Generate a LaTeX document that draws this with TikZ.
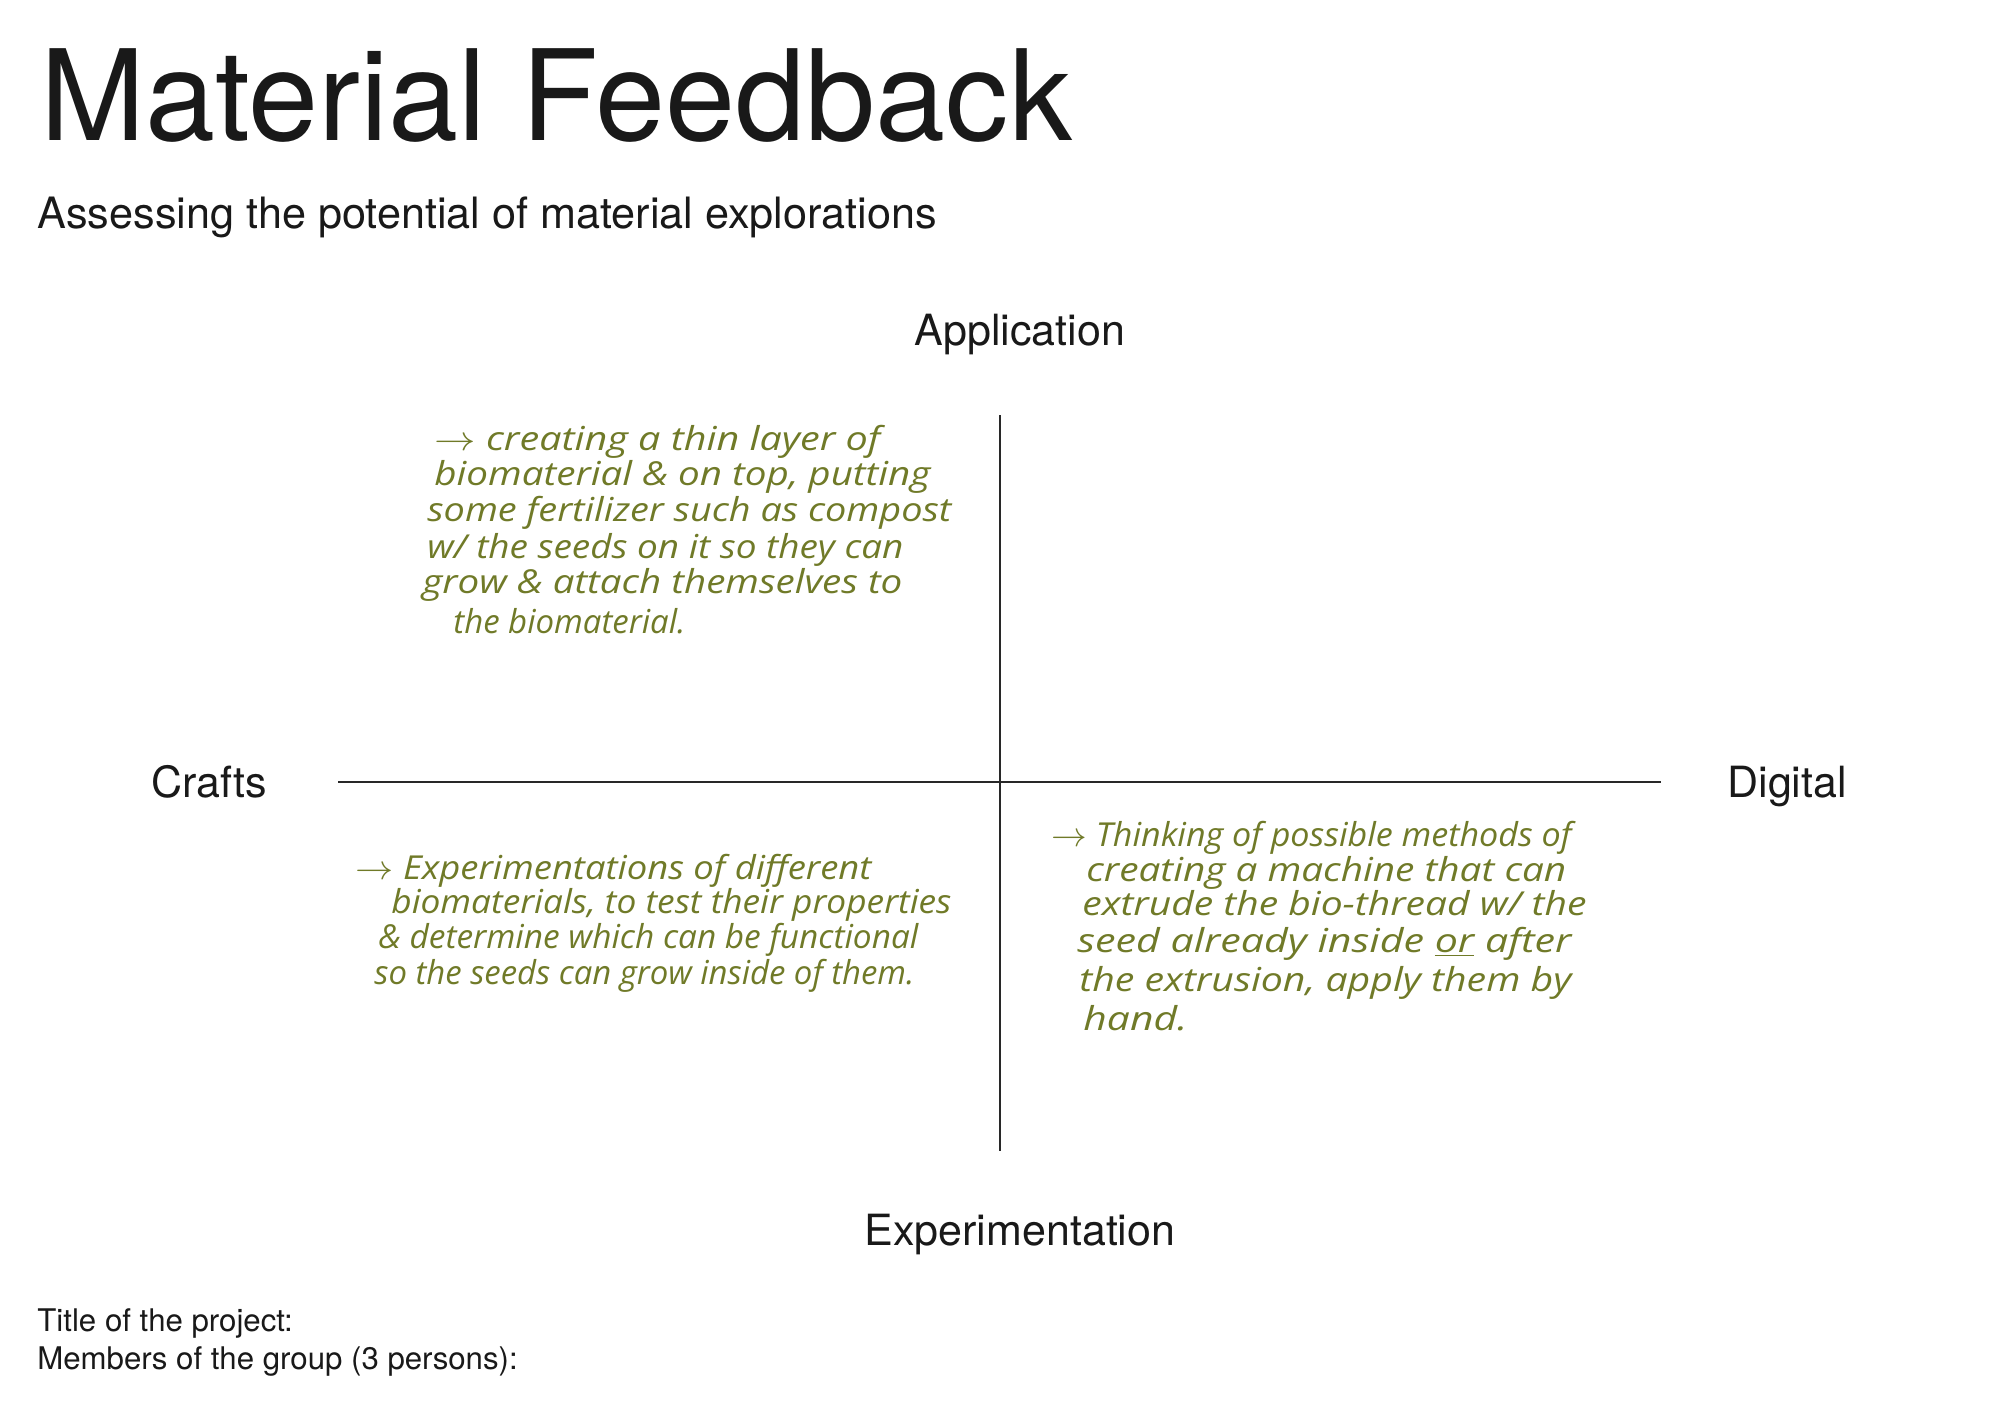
\documentclass[tikz,border=0pt]{standalone}
\usepackage{fontspec}
\setmainfont{TeX Gyre Heros}
\newfontfamily\handfont{Open Sans}
\definecolor{ink}{RGB}{112,122,40}
\definecolor{axis}{RGB}{40,40,40}
\newcommand{\hw}[2]{\resizebox{#1pt}{\height}{#2}}
\tikzset{
  lbl/.style={inner sep=0pt, anchor=base, font=\fontsize{21.5}{26}\selectfont, text=black!90},
  hand/.style={inner sep=0pt, anchor=base west, text=ink, font=\handfont\itshape\fontsize{16.5}{20}\selectfont},
  axisline/.style={draw=axis, line width=0.8pt},
  foot/.style={inner sep=0pt, anchor=base west, font=\fontsize{15.6}{19}\selectfont, text=black!90}
}
\begin{document}
\begin{tikzpicture}[x=0.5pt,y=-0.5pt]
\useasboundingbox[fill=white] (0,0) rectangle (2003,1420);
% title
\node[inner sep=0pt, anchor=base west, font=\fontsize{63}{70}\selectfont, text=black!90] (title) at (40,140) {Material Feedback};
\node[inner sep=0pt, anchor=base west, font=\fontsize{21.6}{26}\selectfont, text=black!90] (subtitle) at (37,228) {Assessing the potential of material explorations};
% axis labels
\node[lbl] (app) at (1020,345) {Application};
\node[lbl] (exp) at (1020,1245) {Experimentation};
\node[lbl, anchor=base west] (crafts) at (151,797) {Crafts};
\node[lbl, anchor=base west] (digital) at (1727,797) {Digital};
% axes
\coordinate (vtop) at (1000,415);
\coordinate (vbot) at (1000,1151);
\coordinate (hleft) at (338,782);
\coordinate (hright) at (1661,782);
\draw[axisline] (vtop) -- (vbot);
\draw[axisline] (hleft) -- (hright);
% note 1 (top left)
\node[hand] (n1a) at (434,450) {\hw{223}{$\rightarrow$ creating a thin layer of}};
\node[hand] (n1b) at (434,485) {\hw{248}{biomaterial \& on top, putting}};
\node[hand] (n1c) at (427,521) {\hw{262}{some fertilizer such as compost}};
\node[hand] (n1d) at (427,558) {\hw{238}{w/ the seeds on it so they can}};
\node[hand] (n1e) at (422,593) {\hw{240}{grow \& attach themselves to}};
\node[hand] (n1f) at (453,633) {\hw{116}{the biomaterial.}};
% note 2 (bottom left)
\node[hand] (n2a) at (355,879) {\hw{258}{$\rightarrow$ Experimentations of different}};
\node[hand] (n2b) at (391,913) {\hw{280}{biomaterials, to test their properties}};
\node[hand] (n2c) at (378,948) {\hw{270}{\& determine which can be functional}};
\node[hand] (n2d) at (374,984) {\hw{270}{so the seeds can grow inside of them.}};
% note 3 (bottom right)
\node[hand] (n3a) at (1051,846) {\hw{260}{$\rightarrow$ Thinking of possible methods of}};
\node[hand] (n3b) at (1086,881) {\hw{240}{creating a machine that can}};
\node[hand] (n3c) at (1082,915) {\hw{252}{extrude the bio-thread w/ the}};
\node[hand] (n3d) at (1077,952) {\hw{247}{seed already inside \underline{or} after}};
\node[hand] (n3e) at (1079,991) {\hw{246}{the extrusion, apply them by}};
\node[hand] (n3f) at (1083,1030) {\hw{52}{hand.}};
% footer
\node[foot] (ftitle) at (37,1331) {Title of the project:};
\node[foot] (fmembers) at (37,1369) {Members of the group (3 persons):};
\end{tikzpicture}
\end{document}
